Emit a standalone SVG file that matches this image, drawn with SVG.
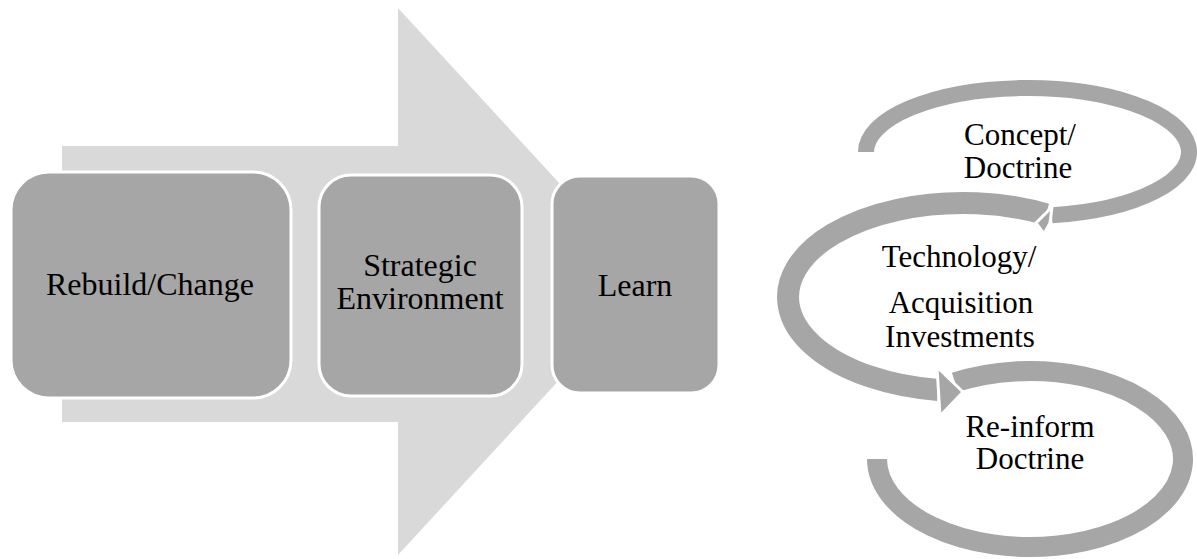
<svg xmlns="http://www.w3.org/2000/svg" width="1197" height="559" viewBox="0 0 1197 559">
<style>
.box{fill:#A6A6A6;stroke:#FFFFFF;stroke-width:3}
.lbl{font-family:"Liberation Serif","Times New Roman",serif;font-size:32px;fill:#000;text-anchor:middle}
.rl{font-size:31px}
.band{fill:none;stroke:#A6A6A6}
.head{fill:#A6A6A6;stroke:#FFFFFF;stroke-width:3;stroke-linejoin:miter}
</style>
<rect width="1197" height="559" fill="#FFFFFF"/>
<g id="big-arrow">
<polygon points="62,146 398,146 398,8 650,281.5 398,555 398,422 62,422" fill="#D9D9D9"/>
</g>
<g id="node-rebuild">
<rect class="box" x="11" y="172" width="280" height="226" rx="38"/>
<text class="lbl" x="150" y="295">Rebuild/Change</text>
</g>
<g id="node-strategic">
<rect class="box" x="319" y="175" width="203" height="221" rx="32"/>
<text class="lbl" x="420" y="276">Strategic</text>
<text class="lbl" x="420" y="309">Environment</text>
</g>
<g id="node-learn">
<rect class="box" x="552" y="176" width="167" height="217" rx="28"/>
<text class="lbl" x="635" y="296">Learn</text>
</g>
<g id="connectors">
<path class="band" stroke-width="20" d="M 955 382.3 A 153 88 0 1 1 877 459"/>
<path class="band" stroke-width="22" d="M 1046 214.2 A 175 94 0 1 0 938 390"/>
<polygon class="head" points="937,367 963,392 940,416"/>
<path class="band" stroke-width="16" d="M 866 152 A 161.5 64 0 1 1 1052 215.3"/>
<polygon class="head" points="1052,207 1036,223 1044,234 1050,223"/>
</g>
<g id="node-concept">
<text class="lbl rl" x="1020" y="145">Concept/</text>
<text class="lbl rl" x="1018" y="178">Doctrine</text>
</g>
<g id="node-technology">
<text class="lbl rl" x="959" y="267">Technology/</text>
<text class="lbl rl" x="961" y="313">Acquisition</text>
<text class="lbl rl" x="960" y="347">Investments</text>
</g>
<g id="node-reinform">
<text class="lbl rl" x="1030" y="437">Re-inform</text>
<text class="lbl rl" x="1030" y="469">Doctrine</text>
</g>
</svg>
